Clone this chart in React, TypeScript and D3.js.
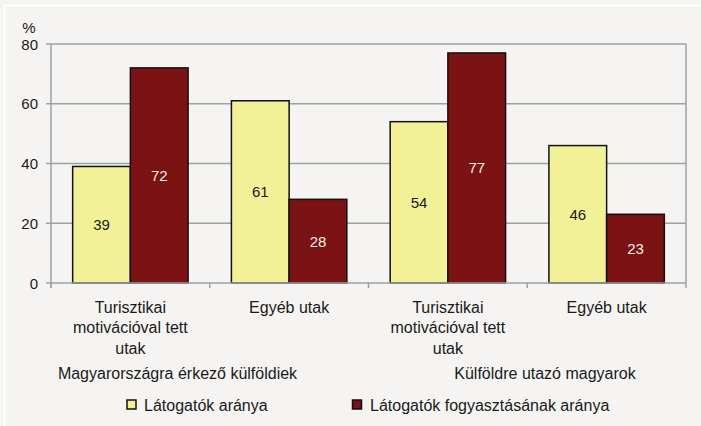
import React from 'react';
import * as d3 from 'd3';

const categories = ['Turisztikai motivációval tett utak', 'Egyéb utak', 'Turisztikai motivációval tett utak', 'Egyéb utak'];
const categoryLines = [
  ['Turisztikai', 'motivációval tett', 'utak'],
  ['Egyéb utak'],
  ['Turisztikai', 'motivációval tett', 'utak'],
  ['Egyéb utak'],
];
const groups = ['Magyarországra érkező külföldiek', 'Külföldre utazó magyarok'];
const visitors = [39, 61, 54, 46];
const consumption = [72, 28, 77, 23];
const seriesNames = ['Látogatók aránya', 'Látogatók fogyasztásának aránya'];
const yTicks = [0, 20, 40, 60, 80];

const W = 701;
const H = 426;
const FONT = 'Liberation Sans, Arial, sans-serif';
const YELLOW = '#f3f197';
const RED = '#7b1214';
const GRID = '#a0a0a0';
const TXT = '#1a1a1a';

const App = () => {
  const left = 51, right = 686, top = 44, bottom = 283;

  const x = d3.scaleBand<number>()
    .domain(d3.range(categories.length))
    .range([left, right])
    .paddingInner(0.273)
    .paddingOuter(0.1365);
  const inner = d3.scaleBand<number>()
    .domain([0, 1])
    .range([0, x.bandwidth()]);
  const y = d3.scaleLinear().domain([0, 80]).range([bottom, top]);

  const step = (right - left) / categories.length;
  const catTicks = d3.range(categories.length + 1).map(i => left + i * step);
  const series = [visitors, consumption];
  const groupX = [177.5, 545];

  return (
    <svg width={W} height={H} style={{ position: 'absolute', left: 0, top: 0, fontFamily: FONT }}>
      <rect x={0} y={0} width={W} height={H} fill="#f5f4f2" />
      <line x1={4} y1={5.5} x2={W} y2={5.5} stroke="#ffffff" strokeWidth={1.5} />
      <line x1={4.5} y1={5} x2={4.5} y2={H} stroke="#ffffff" strokeWidth={1.5} />

      {/* grid */}
      {yTicks.filter(t => t > 0).map(t => (
        <line key={`g-${t}`} x1={left} x2={right} y1={y(t)} y2={y(t)} stroke={GRID} strokeWidth={1.5} />
      ))}
      <line x1={right} x2={right} y1={top} y2={bottom} stroke={GRID} strokeWidth={1.5} />

      {/* bars */}
      {series.map((vals, s) => vals.map((v, i) => (
        <rect
          key={`b-${s}-${i}`}
          x={(x(i) ?? 0) + (inner(s) ?? 0)}
          y={y(v)}
          width={inner.bandwidth()}
          height={bottom - y(v)}
          fill={s === 0 ? YELLOW : RED}
          stroke="#111"
          strokeWidth={1.5}
        />
      )))}
      {series.map((vals, s) => vals.map((v, i) => (
        <text
          key={`l-${s}-${i}`}
          x={(x(i) ?? 0) + (inner(s) ?? 0) + inner.bandwidth() / 2}
          y={(y(v) + bottom) / 2 + 5.5}
          textAnchor="middle"
          fontSize={15}
          fill={s === 0 ? TXT : '#eeeeee'}
        >
          {v}
        </text>
      )))}

      {/* axes */}
      <line x1={left} x2={left} y1={top} y2={bottom + 5} stroke={GRID} strokeWidth={1.5} />
      <line x1={left} x2={right} y1={bottom} y2={bottom} stroke={GRID} strokeWidth={1.5} />
      {yTicks.map(t => (
        <g key={`y-${t}`}>
          <line x1={left - 5} x2={left} y1={y(t)} y2={y(t)} stroke={GRID} strokeWidth={1.5} />
          <text x={38} y={y(t) + 5.5} textAnchor="end" fontSize={15} fill={TXT}>{t}</text>
        </g>
      ))}
      <text x={29} y={33} textAnchor="middle" fontSize={15} fill={TXT}>%</text>
      {catTicks.map((cx, i) => (
        <line key={`ct-${i}`} x1={cx} x2={cx} y1={bottom} y2={bottom + 5} stroke={GRID} strokeWidth={1.5} />
      ))}

      {categoryLines.map((lines, i) => (
        <text key={`c-${i}`} textAnchor="middle" fontSize={16} fill={TXT}>
          {lines.map((ln, k) => (
            <tspan key={k} x={(x(i) ?? 0) + x.bandwidth() / 2} y={312.5 + k * 20.7}>{ln}</tspan>
          ))}
        </text>
      ))}
      {groups.map((g, i) => (
        <text key={`grp-${i}`} x={groupX[i]} y={379} textAnchor="middle" fontSize={16} fill={TXT}>{g}</text>
      ))}

      {/* legend */}
      <rect x={127} y={400} width={9} height={9} fill={YELLOW} stroke="#111" strokeWidth={1.5} />
      <text x={144} y={410.5} fontSize={16} fill={TXT}>{seriesNames[0]}</text>
      <rect x={352.5} y={400} width={9} height={9} fill={RED} stroke="#111" strokeWidth={1.5} />
      <text x={370} y={410.5} fontSize={16} fill={TXT}>{seriesNames[1]}</text>
    </svg>
  );
};

export default App;
